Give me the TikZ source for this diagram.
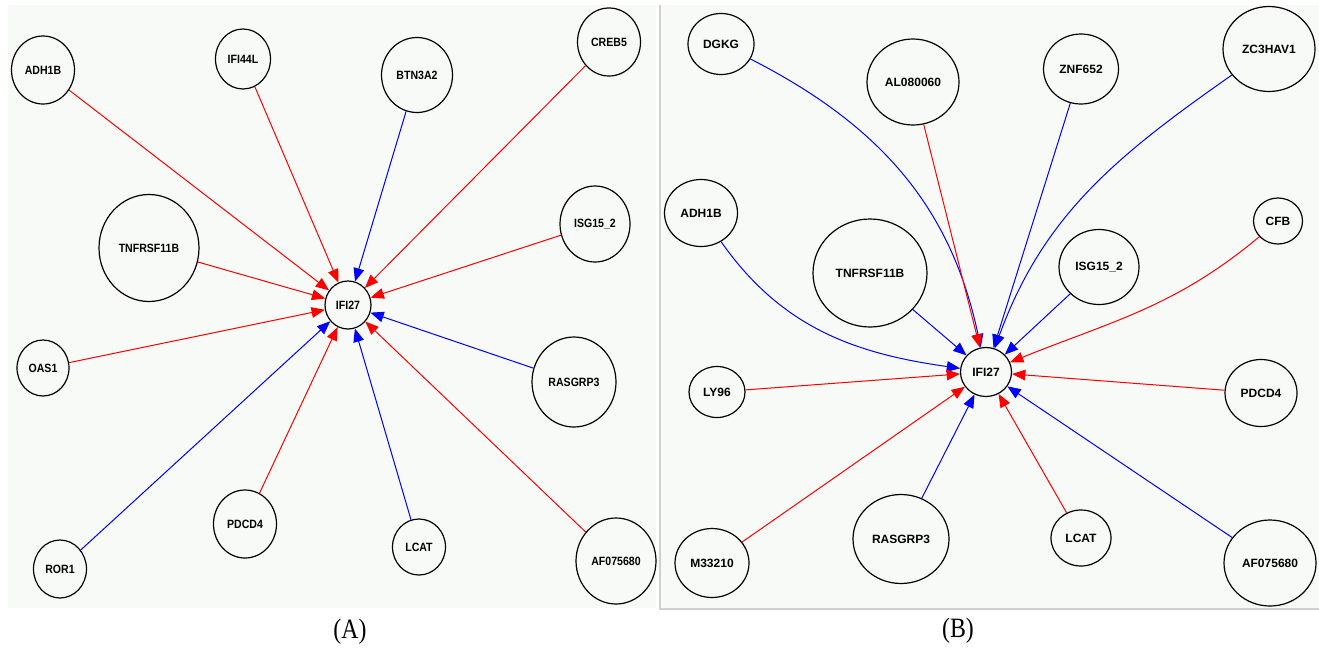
\documentclass[tikz,border=0pt]{standalone}
\usepackage{fontspec}
\setmainfont[FakeStretch=0.85]{Liberation Serif}
\newfontfamily\nfA[FakeStretch=0.88]{Liberation Sans}
\newfontfamily\nfB{Liberation Sans}
\usetikzlibrary{shapes.geometric,arrows.meta}
\definecolor{panelbg}{HTML}{F8FAF8}
\definecolor{edgered}{HTML}{FF0000}
\definecolor{edgeblue}{HTML}{0000FF}
\definecolor{framegray}{HTML}{D0D0D0}
\tikzset{
  gene/.style 2 args={ellipse, draw=black, line width=0.9pt, inner sep=0pt,
    minimum width={#1*1.5pt}, minimum height={#2*1.5pt}},
  geneA/.style 2 args={gene={#1}{#2}, font=\nfA\bfseries\fontsize{9}{10}\selectfont},
  geneB/.style 2 args={gene={#1}{#2}, font=\nfB\bfseries\fontsize{9}{10}\selectfont},
  link/.style={line width=0.75pt, -{Triangle[length=10pt,width=8pt]}},
  redlink/.style={link, draw=edgered},
  bluelink/.style={link, draw=edgeblue},
  panellabel/.style={font=\fontsize{21}{24}\selectfont}
}
\begin{document}
\begin{tikzpicture}[x=0.75pt,y=-0.75pt]
\useasboundingbox (0,0) rectangle (1319,650);
\fill[white] (0,0) rectangle (1319,650);
% panel backgrounds
\fill[panelbg] (8,5) rectangle (656,608);
\fill[panelbg] (660,5) rectangle (1319,609);
\draw[framegray, line width=0.9pt] (660,5) -- (660,609) -- (1319,609);

% ---------- Panel A ----------
\node[geneA={23}{24}] (a0) at (348,305) {IFI27};
\node[geneA={31.5}{34}] (a1) at (43,70) {ADH1B};
\node[geneA={27.5}{30}] (a2) at (243,59) {IFI44L};
\node[geneA={35.5}{37.5}] (a3) at (417,75) {BTN3A2};
\node[geneA={31.5}{34}] (a4) at (609,42) {CREB5};
\node[geneA={50}{53.5}] (a5) at (149,248) {TNFRSF11B};
\node[geneA={35}{38}] (a6) at (595,224) {ISG15\_2};
\node[geneA={26}{28}] (a7) at (43,368) {OAS1};
\node[geneA={42}{45}] (a8) at (574,382) {RASGRP3};
\node[geneA={26.5}{29}] (a9) at (60,569) {ROR1};
\node[geneA={31.5}{34}] (a10) at (245,524) {PDCD4};
\node[geneA={26.5}{28}] (a11) at (419,547) {LCAT};
\node[geneA={40}{43}] (a12) at (616,561) {AF075680};

\draw[redlink] (a1) -- (a0);
\draw[redlink] (a2) -- (a0);
\draw[bluelink] (a3) -- (a0);
\draw[redlink] (a4) -- (a0);
\draw[redlink] (a5) -- (a0);
\draw[redlink] (a6) -- (a0);
\draw[redlink] (a7) -- (a0);
\draw[bluelink] (a8) -- (a0);
\draw[bluelink] (a9) -- (a0);
\draw[redlink] (a10) -- (a0);
\draw[bluelink] (a11) -- (a0);
\draw[redlink] (a12) -- (a0);

\node[panellabel] (labA) at (350,632) {(A)};

% ---------- Panel B ----------
\node[geneB={25.5}{24.5}] (b0) at (986,372) {IFI27};
\node[geneB={33}{30.5}] (b1) at (721,44) {DGKG};
\node[geneB={46}{43}] (b2) at (913,82) {AL080060};
\node[geneB={37.5}{35}] (b3) at (1081,69) {ZNF652};
\node[geneB={46}{42.5}] (b4) at (1269,49) {ZC3HAV1};
\node[geneB={36.5}{33.5}] (b5) at (701,213) {ADH1B};
\node[geneB={57}{54}] (b6) at (870,273) {TNFRSF11B};
\node[geneB={40}{37.5}] (b7) at (1099,267) {ISG15\_2};
\node[geneB={24.5}{23}] (b8) at (1278,221) {CFB};
\node[geneB={28}{25.5}] (b9) at (717,392) {LY96};
\node[geneB={36}{33.5}] (b10) at (1261,393) {PDCD4};
\node[geneB={37}{34.5}] (b11) at (712,563) {M33210};
\node[geneB={48}{44.5}] (b12) at (901,539) {RASGRP3};
\node[geneB={30}{28}] (b13) at (1081,538) {LCAT};
\node[geneB={46}{43}] (b14) at (1270,563) {AF075680};

\draw[bluelink] (b1) to[out=-27, in=102] (b0);
\draw[redlink] (b2) -- (b0);
\draw[bluelink] (b3) -- (b0);
\draw[bluelink] (b4) to[out=215, in=70] (b0);
\draw[bluelink] (b5) to[out=-55, in=172] (b0);
\draw[bluelink] (b6) -- (b0);
\draw[bluelink] (b7) -- (b0);
\draw[redlink] (b8) to[out=220, in=22] (b0);
\draw[redlink] (b9) -- (b0);
\draw[redlink] (b10) -- (b0);
\draw[redlink] (b11) -- (b0);
\draw[bluelink] (b12) -- (b0);
\draw[redlink] (b13) -- (b0);
\draw[bluelink] (b14) -- (b0);

\node[panellabel] (labB) at (958,631) {(B)};
\end{tikzpicture}
\end{document}
